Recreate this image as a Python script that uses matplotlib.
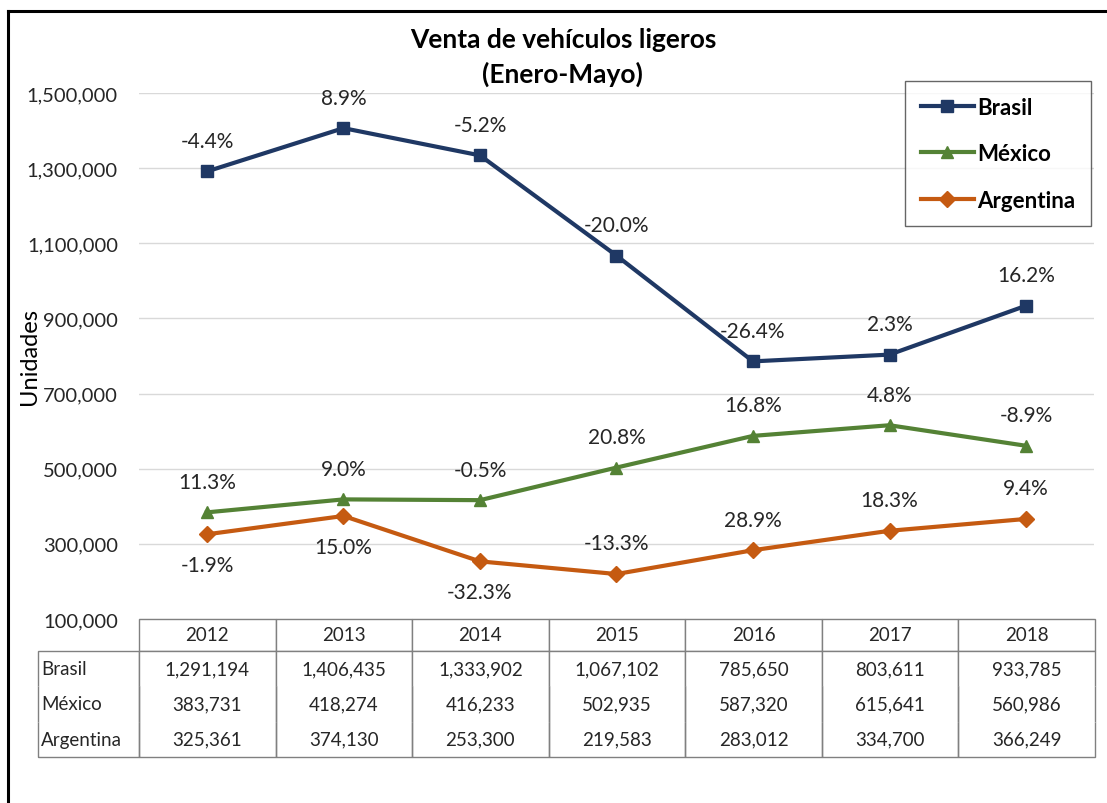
import numpy as np
import matplotlib.pyplot as plt
from matplotlib.lines import Line2D

plt.rcParams['font.family'] = ['Lato', 'DejaVu Sans']

#Datos de venta (Enero-Mayo)
years = ['2012', '2013', '2014', '2015', '2016', '2017', '2018']
brasil = [1291194, 1406435, 1333902, 1067102, 785650, 803611, 933785]
mexico = [383731, 418274, 416233, 502935, 587320, 615641, 560986]
argentina = [325361, 374130, 253300, 219583, 283012, 334700, 366249]

#Variacion anual mostrada sobre cada punto
brasil_pct = ['-4.4%', '8.9%', '-5.2%', '-20.0%', '-26.4%', '2.3%', '16.2%']
mexico_pct = ['11.3%', '9.0%', '-0.5%', '20.8%', '16.8%', '4.8%', '-8.9%']
argentina_pct = ['-1.9%', '15.0%', '-32.3%', '-13.3%', '28.9%', '18.3%', '9.4%']
argentina_below = [True, True, True, False, False, False, False]

series_names = ['Brasil', 'México', 'Argentina']
colors = ['#1F3864', '#548235', '#C55A11']
markers = ['s', '^', 'D']
msizes = [9, 9, 8]


def main():
    fig = plt.figure(figsize=(11.07, 8.04), dpi=100)
    ax = fig.add_axes([0.1253, 0.2289, 0.8632, 0.6542])

    x = np.arange(len(years))
    all_series = [brasil, mexico, argentina]
    all_pct = [brasil_pct, mexico_pct, argentina_pct]

    for i in range(3):
        ax.plot(x, all_series[i], color=colors[i], lw=3, marker=markers[i],
                markersize=msizes[i], label=series_names[i], zorder=3)

    for i in range(3):
        for j in range(len(years)):
            below = (i == 2 and argentina_below[j])
            dy = -22 if below else 22
            ax.annotate(all_pct[i][j], (x[j], all_series[i][j]), xytext=(0, dy),
                        textcoords='offset points', ha='center', va='center',
                        fontsize=15, color='#262626')

    ax.set_xlim(-0.5, len(years) - 0.5)
    ax.set_ylim(100000, 1500000)
    ax.set_yticks(np.arange(100000, 1500001, 200000))
    ax.set_yticklabels(['{:,}'.format(v) for v in range(100000, 1500001, 200000)],
                       fontsize=14.5, color='#262626')
    ax.set_xticks([])
    ax.tick_params(axis='y', length=0, pad=15)
    ax.grid(axis='y', color='#D9D9D9', lw=1)
    ax.set_axisbelow(True)
    for s in ax.spines.values():
        s.set_visible(False)
    ax.set_ylabel('Unidades', fontsize=17)
    ax.yaxis.label.set_va('center')
    ax.yaxis.set_label_coords(-0.1145, 0.5)

    #Tabla de datos debajo del grafico
    cell_text = [[''] + years]
    for name, vals in zip(series_names, all_series):
        cell_text.append([name] + ['{:,}'.format(v) for v in vals])
    row_w = 101
    col_w = 955.6 / 7
    tab = ax.table(cellText=cell_text, colWidths=[row_w] + [col_w] * 7,
                   cellLoc='center', bbox=[-0.1054, -0.2624, 1.106, 0.2624])
    tab.auto_set_font_size(False)
    tab.set_fontsize(13.5)
    for (r, c), cell in tab.get_celld().items():
        cell.set_edgecolor('#808080')
        cell.set_linewidth(1)
        cell.get_text().set_color('#262626')
        if r == 0:
            cell.set_height(32)
            cell.visible_edges = '' if c == 0 else 'closed'
        else:
            cell.set_height(35.3)
            edges = 'LR'
            if r == 1:
                edges += 'T'
            if r == 3:
                edges += 'B'
            cell.visible_edges = edges
            if c == 0:
                cell.get_text().set_ha('left')
                cell.PAD = 0.03

    fig.text(0.5085, 0.950, 'Venta de vehículos ligeros', ha='center', va='center',
             fontsize=19, fontweight='bold')
    fig.text(0.5085, 0.907, '(Enero-Mayo)', ha='center', va='center',
             fontsize=19, fontweight='bold')

    leg = ax.legend(loc='upper right', bbox_to_anchor=(0.9855, 0.898),
                    bbox_transform=fig.transFigure, frameon=True, fancybox=False,
                    fontsize=16, labelspacing=1.15, handlelength=2.4,
                    handletextpad=0.15, borderpad=0.7, borderaxespad=0)
    leg.get_frame().set_edgecolor('#404040')
    leg.get_frame().set_linewidth(1)
    for t in leg.get_texts():
        t.set_fontweight('bold')

    #Borde exterior
    fig.add_artist(Line2D([8 / 1107, 8 / 1107], [0, 1 - 12 / 804], color='black',
                          lw=2.2, transform=fig.transFigure))
    fig.add_artist(Line2D([8 / 1107, 1], [1 - 12 / 804, 1 - 12 / 804], color='black',
                          lw=2.2, transform=fig.transFigure))

    fig.savefig('out.png', dpi=100)


if __name__ == "__main__":
    main()
